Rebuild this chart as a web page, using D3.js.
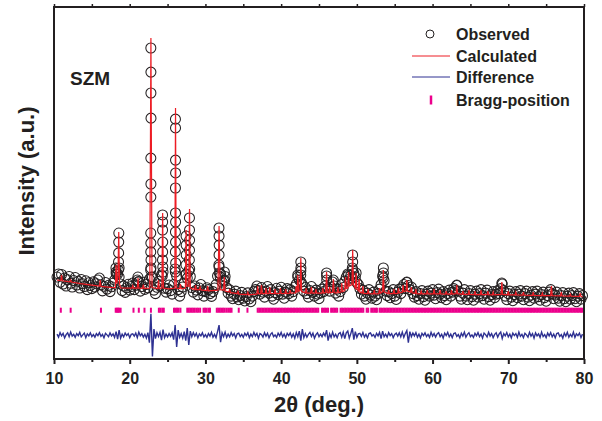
<!DOCTYPE html>
<html>
<head>
<meta charset="utf-8">
<script src="https://cdn.jsdelivr.net/npm/d3@7"></script>
<style>
  body { margin: 0; background: #fff; }
  svg { display: block; font-family: "Liberation Sans", Arial, sans-serif; font-weight: bold; }
</style>
</head>
<body>
<svg id="chart" width="602" height="421"></svg>
<script>
// scan grid of the measurement (2theta, deg.)
const scanStart = 10.4;
const scanStep = 0.2;

// observed counts along the scan (a.u.)
const observed = [
  226, 238, 205, 236, 198, 222, 190, 215, 228, 201, 186, 212, 224, 194, 209, 182, 216, 199, 188, 211, 176, 203, 192, 180, 207,
  186, 199, 214, 222, 195, 171, 189, 204, 178, 193, 168, 187, 201, 214, 246, 238, 262, 198, 172, 190, 165, 183, 197, 174, 188,
  202, 176, 193, 214, 206, 170, 188, 205, 177, 196, 183, 218, 262, 226, 174, 160, 185, 208, 190, 234, 246, 181, 166, 180, 194,
  172, 158, 196, 258, 230, 176, 150, 168, 186, 202, 236, 222, 250, 228, 184, 166, 190, 174, 155, 182, 196, 171, 150, 168, 183,
  176, 160, 149, 168, 182, 196, 230, 266, 238, 206, 212, 228, 184, 162, 175, 150, 140, 158, 170, 147, 136, 152, 165, 142, 131,
  148, 163, 139, 128, 150, 168, 176, 190, 172, 158, 184, 166, 146, 170, 188, 162, 176, 150, 138, 164, 181, 156, 170, 185, 158,
  142, 166, 180, 160, 176, 150, 168, 186, 198, 226, 214, 250, 196, 170, 184, 160, 146, 172, 188, 165, 150, 174, 158, 140, 162,
  178, 168, 190, 230, 182, 170, 186, 206, 190, 162, 178, 150, 168, 196, 184, 210, 226, 238, 218, 232, 262, 240, 226, 204, 196,
  180, 158, 174, 150, 138, 162, 176, 154, 142, 166, 150, 136, 160, 178, 196, 230, 212, 170, 152, 168, 144, 160, 176, 150, 137,
  166, 178, 160, 184, 196, 180, 204, 192, 176, 186, 160, 146, 168, 152, 138, 160, 172, 148, 134, 158, 170, 150, 162, 176, 154,
  140, 164, 178, 158, 144, 168, 152, 136, 160, 174, 150, 166, 180, 172, 192, 170, 150, 138, 162, 176, 150, 136, 160, 172, 148,
  134, 158, 170, 146, 160, 176, 152, 138, 162, 174, 148, 134, 156, 168, 144, 158, 172, 160, 180, 198, 172, 150, 136, 160, 170,
  146, 132, 156, 168, 144, 158, 172, 150, 136, 160, 170, 146, 132, 154, 168, 142, 158, 170, 148, 134, 156, 166, 144, 130, 152,
  166, 176, 160, 140, 154, 166, 142, 130, 152, 164, 140, 128, 150, 162, 138, 152, 164, 140, 128, 150, 160, 138, 152
];

// extra observed points sitting on the narrow reflections [2theta, counts]
const observedPeaks = [
  [18.18, 262], [18.22, 238],
  [18.50, 254], [18.52, 286], [18.54, 322], [18.55, 365], [18.56, 401], [18.60, 226],
  [21.08, 226], [21.14, 208],
  [22.79, 1137], [22.80, 1041], [22.80, 958], [22.81, 858], [22.79, 699], [22.80, 596], [22.79, 544],
  [22.78, 401], [22.79, 361], [22.78, 326], [22.81, 294], [22.77, 254], [22.83, 226],
  [24.34, 473], [24.35, 445], [24.34, 413], [24.36, 365], [24.35, 326], [24.33, 294], [24.37, 266], [24.30, 230],
  [26.04, 854], [26.05, 819], [26.05, 691], [26.06, 640], [26.04, 580], [26.05, 481], [26.06, 445],
  [26.04, 405], [26.05, 365], [26.03, 326], [26.07, 282], [26.02, 246],
  [27.44, 389], [27.45, 353], [27.46, 314], [27.43, 274], [27.47, 238],
  [27.89, 461], [27.90, 413], [27.91, 373], [27.90, 333], [27.88, 294], [27.92, 258],
  [31.79, 421], [31.80, 389], [31.81, 353], [31.80, 314], [31.78, 274], [31.83, 242], [31.95, 226],
  [32.50, 246], [32.55, 214],
  [42.20, 234],
  [42.60, 286], [42.61, 262], [42.59, 234], [42.63, 206],
  [46.00, 242], [46.02, 214], [46.90, 214], [48.90, 234],
  [49.44, 314], [49.45, 286], [49.46, 254], [49.43, 222], [49.90, 242],
  [53.50, 262], [53.51, 242], [53.49, 222],
  [56.60, 206], [63.20, 194], [69.15, 202]
];

// calculated profile [2theta, counts]
const calculated = [
  [10.40, 214], [10.90, 212], [11.00, 234], [11.10, 211], [12.10, 207], [12.20, 214], [12.30, 206], [13.50, 200],
  [15.00, 194], [16.00, 190], [16.10, 214], [16.20, 189], [17.50, 185], [18.10, 184], [18.20, 274], [18.30, 200],
  [18.45, 230], [18.55, 405], [18.65, 200], [18.80, 183], [20.30, 182], [20.40, 192], [20.50, 182], [21.00, 182],
  [21.10, 222], [21.20, 182], [21.70, 181], [21.80, 196], [21.90, 181], [22.65, 182], [22.80, 1177], [22.95, 184],
  [23.70, 180], [23.80, 214], [23.90, 180], [24.25, 182], [24.35, 481], [24.45, 182], [25.20, 179], [25.95, 182],
  [26.05, 898], [26.15, 182], [26.60, 180], [26.70, 198], [26.80, 179], [27.35, 182], [27.45, 413], [27.55, 190],
  [27.80, 190], [27.90, 497], [28.00, 182], [28.60, 176], [28.70, 194], [28.80, 176], [29.20, 176], [29.30, 186],
  [29.40, 175], [30.20, 172], [30.30, 190], [30.40, 171], [31.65, 174], [31.80, 429], [31.95, 176], [32.40, 174],
  [32.50, 226], [32.60, 170], [33.10, 166], [33.20, 178], [33.30, 164], [34.20, 160], [34.30, 172], [34.40, 158],
  [35.50, 156], [35.60, 166], [35.70, 155], [36.80, 158], [36.90, 190], [37.00, 160], [37.30, 160], [37.40, 194],
  [37.50, 160], [37.90, 160], [38.00, 182], [38.10, 160], [38.40, 161], [38.50, 186], [38.60, 161], [39.10, 160],
  [39.20, 178], [39.30, 160], [39.80, 161], [39.90, 182], [40.00, 161], [40.50, 160], [40.60, 178], [40.70, 160],
  [41.10, 162], [41.20, 174], [41.30, 162], [41.90, 163], [42.00, 190], [42.10, 164], [42.20, 234], [42.30, 170],
  [42.50, 172], [42.60, 302], [42.70, 168], [43.20, 163], [43.30, 182], [43.40, 162], [43.90, 162], [44.00, 186],
  [44.10, 162], [44.50, 162], [44.60, 178], [44.70, 162], [45.40, 162], [45.50, 182], [45.60, 162], [45.90, 164],
  [46.00, 246], [46.10, 164], [46.30, 163], [46.40, 186], [46.50, 163], [46.80, 165], [46.90, 218], [47.00, 164],
  [47.40, 163], [47.50, 186], [47.60, 164], [47.90, 166], [48.00, 202], [48.10, 168], [48.40, 172], [48.50, 226],
  [48.60, 180], [48.80, 182], [48.90, 246], [49.00, 190], [49.35, 196], [49.45, 333], [49.55, 196], [49.80, 182],
  [49.90, 242], [50.00, 178], [50.20, 172], [50.30, 218], [50.40, 166], [50.70, 162], [50.80, 190], [50.90, 161],
  [51.40, 160], [51.50, 178], [51.60, 160], [52.20, 159], [52.30, 174], [52.40, 159], [52.90, 160], [53.00, 182],
  [53.10, 162], [53.40, 168], [53.50, 254], [53.60, 166], [54.10, 160], [54.20, 174], [54.30, 160], [54.80, 160],
  [54.90, 178], [55.00, 160], [55.40, 161], [55.50, 182], [55.60, 162], [56.00, 165], [56.10, 194], [56.20, 168],
  [56.50, 170], [56.60, 214], [56.70, 170], [57.10, 166], [57.20, 186], [57.30, 163], [57.70, 160], [57.80, 178],
  [57.90, 160], [58.40, 159], [58.50, 170], [58.60, 159], [59.20, 159], [59.30, 174], [59.40, 159], [60.10, 159],
  [60.20, 178], [60.30, 159], [60.90, 159], [61.00, 174], [61.10, 159], [61.70, 158], [61.80, 170], [61.90, 158],
  [62.40, 158], [62.50, 174], [62.60, 158], [63.10, 160], [63.20, 194], [63.30, 160], [63.90, 157], [64.00, 170],
  [64.10, 157], [64.70, 157], [64.80, 174], [64.90, 157], [65.50, 156], [65.60, 170], [65.70, 156], [66.30, 156],
  [66.40, 174], [66.50, 156], [67.20, 156], [67.30, 170], [67.40, 156], [67.90, 155], [68.00, 166], [68.10, 155],
  [69.05, 157], [69.15, 206], [69.25, 157], [69.90, 155], [70.00, 170], [70.10, 155], [70.90, 155], [71.00, 166],
  [71.10, 155], [71.90, 154], [72.00, 166], [72.10, 154], [73.20, 153], [73.30, 166], [73.40, 153], [74.40, 152],
  [74.50, 162], [74.60, 152], [75.60, 152], [75.70, 190], [75.80, 152], [76.90, 151], [77.00, 166], [77.10, 151],
  [78.10, 150], [78.20, 158], [78.30, 150], [79.40, 149], [79.50, 162], [79.60, 149], [79.80, 147]
];

// observed - calculated, same scan grid
const difference = [
  4, -8, 10, -3, 7, -11, 2, 9, -6, 12, -4, 3, -9, 6, -2, 11, -7, 1, 8, -10, 5, -3, 9, -6, 2,
  -8, 6, -2, 10, -5, 3, -11, 7, 1, -6, 9, -3, 5, -9, 14, -16, 20, -12, 4, -7, 8, -2, 6, -10, 3,
  5, -4, 8, -10, 12, -3, 6, -8, 3, -12, 10, -30, 85, -85, 24, -14, 9, -6, 11, -20, 22, -10, 4, -7, 6,
  -5, 9, -18, 40, -47, 20, -9, 6, -12, 14, -22, 28, -39, 16, -6, 10, -4, 7, -11, 5, -3, 9, -7, 2, -9,
  6, -4, 11, -8, 3, -10, 14, 40, -28, 9, -6, 12, -9, 4, -7, 10, -3, 6, -11, 5, 8, -6, 3, -9, 7,
  -2, 9, -10, 4, -6, 11, -3, 7, -12, 6, 2, -8, 10, -4, 7, -11, 3, 9, -6, 1, -9, 8, -3, 11, -7,
  4, -10, 7, -2, 9, -8, 5, -12, 10, -6, 16, -22, 24, -10, 6, -8, 3, 11, -5, 8, -12, 2, 9, -6, 4,
  -6, 8, -3, 20, -22, 5, -9, 12, -7, 3, -10, 6, 10, -8, 12, -14, 9, 16, -12, 6, 28, -18, 14, -9, 5,
  7, -5, 10, -8, 3, -11, 6, 9, -4, 2, -9, 7, -3, 11, -14, 16, -6, 4, -8, 10, -2, 6, -10, 3, 8,
  -4, 9, -7, 12, -9, 6, 18, -30, 14, -6, 8, -3, 10, -8, 4, -11, 7, -2, 9, -6, 3, -9, 11, -4, 6,
  -8, 5, 10, -6, 3, -12, 8, -2, 11, -7, 4, -10, 6, 9, -5, 2, -11, 7, -4, 12, -8, 3, 9, -6, 1,
  -9, 7, -3, 10, -6, 4, -12, 8, 2, -7, 11, -4, 6, -10, 3, 9, -8, 5, 12, -14, 6, -3, 10, -7, 4,
  -11, 8, -2, 6, -9, 12, -5, 3, -10, 7, 1, -8, 11, -4, 6, -12, 9, -3, 5, -9, 12, -6, 2, -10, 8,
  -3, 10, -7, 4, -11, 6, 9, -5, 2, -12, 8, -4, 11, -8, 3, -6, 12, -9, 5, -2, 8, -10, 4
];

// Bragg reflection positions (2theta)
const braggPositions = [
  10.9, 12.2, 16.2, 18.15, 18.3, 18.45, 18.6, 18.8, 20.5, 21.2, 21.95, 22.8, 23.85, 24.05, 24.3, 24.5,
  25.85, 26.05, 26.25, 26.45, 26.7, 27.6, 27.8, 28.0, 28.2, 28.4, 28.6, 28.85, 29.05, 29.3, 29.75, 29.95,
  30.15, 30.4, 30.6, 31.5, 31.7, 31.9, 32.1, 32.3, 32.5, 32.75, 33.0, 33.25, 33.45, 34.4, 35.55,
  36.9, 37.1, 37.3, 37.5, 37.7, 37.9, 38.1, 38.3, 38.5, 38.7, 38.9, 39.1, 39.3, 39.5, 39.7, 39.9,
  40.1, 40.3, 40.5, 40.7, 40.9, 41.1, 41.3, 41.5, 41.7, 41.9, 42.1, 42.3, 42.5, 42.7, 42.9, 43.1,
  43.3, 43.5, 43.7, 43.9, 44.1, 44.3, 44.5, 44.7, 44.9, 45.4, 45.6, 45.8, 46.0, 46.2, 46.6, 46.8,
  47.0, 47.2, 47.4, 47.85, 48.05, 48.25, 48.45, 48.65, 48.85, 49.05, 49.25, 49.45, 49.65, 49.85, 50.05, 50.25,
  50.45, 50.65, 50.85, 51.3, 51.5, 51.9, 52.1, 52.3, 52.5, 52.65, 53.0, 53.2, 53.4, 53.6, 53.8, 54.0,
  54.2, 54.4, 54.6, 54.8, 55.0, 55.2, 55.4, 55.6, 55.8, 56.0, 56.2, 56.4, 56.6, 56.8, 57.0, 57.2,
  57.4, 57.6, 57.8, 58.0, 58.2, 58.4, 58.6, 58.8, 59.0, 59.2, 59.4, 59.6, 59.8, 60.0, 60.2, 60.4,
  60.6, 60.8, 61.0, 61.2, 61.4, 61.6, 61.8, 62.0, 62.2, 62.4, 62.6, 62.8, 63.0, 63.2, 63.4, 63.6,
  63.8, 64.0, 64.2, 64.4, 64.6, 64.8, 65.0, 65.2, 65.4, 65.6, 65.8, 66.0, 66.2, 66.4, 66.6, 66.8,
  67.0, 67.2, 67.4, 67.6, 67.8, 68.0, 68.2, 68.4, 68.6, 68.8, 69.0, 69.2, 69.4, 69.6, 69.8, 70.0,
  70.2, 70.4, 70.6, 70.8, 71.0, 71.2, 71.4, 71.6, 71.8, 72.0, 72.2, 72.4, 72.6, 72.8, 73.0, 73.2,
  73.4, 73.6, 73.8, 74.0, 74.2, 74.4, 74.6, 74.8, 75.0, 75.2, 75.4, 75.6, 75.8, 76.0, 76.2, 76.4,
  76.6, 76.8, 77.0, 77.2, 77.4, 77.6, 77.8, 78.0, 78.2, 78.4, 78.6, 78.8, 79.0, 79.2, 79.4, 79.6, 79.8
];

const majorTicks = [10, 20, 30, 40, 50, 60, 70, 80];
const minorTicks = [15, 25, 35, 45, 55, 65, 75];
const legendItems = ["Observed", "Calculated", "Difference", "Bragg-position"];

(function () {
  'use strict';

  // layout
  const plotL = 54, plotR = 584, plotT = 7, plotB = 359;
  const diffShift = -5;          // difference curve drawn at this level
  const braggLow = 84, braggHigh = 104;

  const colRed = "#ed1c24", colBlue = "#2e3192", colPink = "#ec008c", colInk = "#231f20";

  const svg = d3.select("#chart");

  const x = d3.scaleLinear().domain([10, 80]).range([plotL, plotR]);
  const y = d3.scaleLinear().domain([-100, 1300]).range([plotB, plotT]);

  const scanAngle = i => scanStart + i * scanStep;

  // observed circles
  const obsPoints = observed.map((v, i) => [scanAngle(i), v]).concat(observedPeaks);
  svg.append("g")
    .selectAll("circle")
    .data(obsPoints)
    .join("circle")
    .attr("cx", d => x(d[0]))
    .attr("cy", d => y(d[1]))
    .attr("r", 5)
    .attr("fill", "none")
    .attr("stroke", colInk)
    .attr("stroke-width", 1.05);

  // calculated profile
  svg.append("path")
    .datum(calculated)
    .attr("fill", "none")
    .attr("stroke", colRed)
    .attr("stroke-width", 1.2)
    .attr("d", d3.line().x(d => x(d[0])).y(d => y(d[1])));

  // difference
  svg.append("path")
    .datum(difference)
    .attr("fill", "none")
    .attr("stroke", colBlue)
    .attr("stroke-width", 1.4)
    .attr("d", d3.line().x((d, i) => x(scanAngle(i))).y(d => y(d + diffShift)));

  // Bragg ticks
  svg.append("g")
    .selectAll("line")
    .data(braggPositions)
    .join("line")
    .attr("x1", d => x(d)).attr("x2", d => x(d))
    .attr("y1", y(braggLow)).attr("y2", y(braggHigh))
    .attr("stroke", colPink)
    .attr("stroke-width", 2);

  // axes
  const xAxis = svg.append("g")
    .attr("transform", `translate(0,${plotB})`)
    .call(d3.axisBottom(x).tickValues(majorTicks).tickSize(5).tickPadding(9).tickFormat(d3.format("d")));
  xAxis.select(".domain").remove();
  xAxis.selectAll("line").attr("stroke", colInk).attr("stroke-width", 2);
  xAxis.selectAll("text").attr("fill", colInk).style("font-size", "16px").style("font-weight", "bold");

  const xMinor = svg.append("g")
    .attr("transform", `translate(0,${plotB})`)
    .call(d3.axisBottom(x).tickValues(minorTicks).tickSize(3).tickFormat(""));
  xMinor.select(".domain").remove();
  xMinor.selectAll("line").attr("stroke", colInk).attr("stroke-width", 2);

  const xTop = svg.append("g")
    .attr("transform", `translate(0,${plotT})`)
    .call(d3.axisTop(x).tickValues(majorTicks.concat(minorTicks)).tickSize(3).tickFormat(""));
  xTop.select(".domain").remove();
  xTop.selectAll("line").attr("stroke", colInk).attr("stroke-width", 1.5);

  // frame
  svg.append("rect")
    .attr("x", plotL).attr("y", plotT)
    .attr("width", plotR - plotL).attr("height", plotB - plotT)
    .attr("fill", "none")
    .attr("stroke", colInk)
    .attr("stroke-width", 2);

  // titles
  svg.append("text")
    .attr("x", (plotL + plotR) / 2).attr("y", 412)
    .attr("text-anchor", "middle")
    .attr("fill", colInk)
    .style("font-size", "22px")
    .text("2θ (deg.)");

  svg.append("text")
    .attr("transform", `translate(34,${(plotT + plotB) / 2 - 2}) rotate(-90)`)
    .attr("text-anchor", "middle")
    .attr("fill", colInk)
    .style("font-size", "22px")
    .text("Intensity (a.u.)");

  svg.append("text")
    .attr("x", 70).attr("y", 85)
    .attr("fill", colInk)
    .style("font-size", "19px")
    .text("SZM");

  // legend
  const legend = svg.append("g");
  const rowY = [34, 56, 77, 100];
  legend.selectAll("text")
    .data(legendItems)
    .join("text")
    .attr("x", 456)
    .attr("y", (d, i) => rowY[i])
    .attr("dy", "0.36em")
    .attr("fill", colInk)
    .style("font-size", "16px")
    .text(d => d);

  legend.append("circle")
    .attr("cx", 430).attr("cy", rowY[0]).attr("r", 4)
    .attr("fill", "none").attr("stroke", colInk).attr("stroke-width", 1);
  legend.append("line")
    .attr("x1", 412).attr("x2", 450).attr("y1", rowY[1]).attr("y2", rowY[1])
    .attr("stroke", colRed).attr("stroke-width", 1);
  legend.append("line")
    .attr("x1", 412).attr("x2", 450).attr("y1", rowY[2]).attr("y2", rowY[2])
    .attr("stroke", colBlue).attr("stroke-width", 1);
  legend.append("line")
    .attr("x1", 431).attr("x2", 431).attr("y1", rowY[3] - 4.5).attr("y2", rowY[3] + 4.5)
    .attr("stroke", colPink).attr("stroke-width", 2.5);
})();
</script>
</body>
</html>
